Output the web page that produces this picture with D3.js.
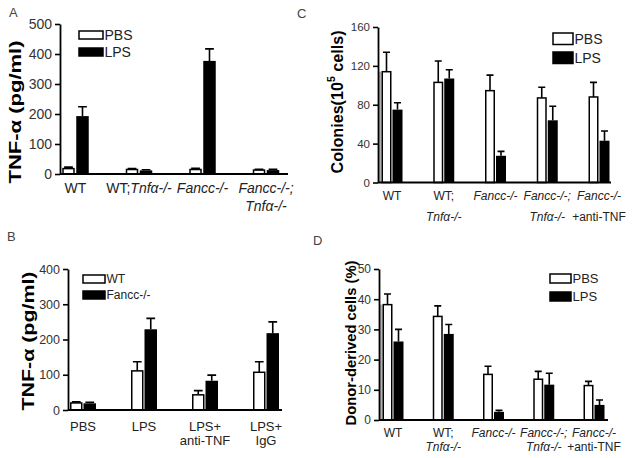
<!DOCTYPE html>
<html><head><meta charset="utf-8">
<script src="https://cdn.jsdelivr.net/npm/d3@7"></script>
<style>body{margin:0;background:#fff}svg{display:block;font-family:"Liberation Sans",Arial,sans-serif}</style>
</head><body><svg id="c" width="632" height="458"></svg>
<script>
// ---------- Panel A ----------
const catsA = ["WT", "WT;Tnfα-/-", "Fancc-/-", "Fancc-/-;\nTnfα-/-"];
const pbsA = [18, 15, 15, 13];
const pbsErrA = [5, 3, 4, 3];
const lpsA = [193, 12, 377, 13];
const lpsErrA = [31, 2, 40, 3];
const ticksA = [0, 100, 200, 300, 400, 500];
const seriesA = ["PBS", "LPS"];
// ---------- Panel B ----------
const catsB = ["PBS", "LPS", "LPS+\nanti-TNF", "LPS+\nIgG"];
const wtB = [20, 111, 43, 107];
const wtErrB = [3, 26, 12, 30];
const fanccB = [19, 229, 83, 218];
const fanccErrB = [3, 31, 16, 32];
const ticksB = [0, 100, 200, 300, 400];
const seriesB = ["WT", "Fancc-/-"];
// ---------- Panel C ----------
const catsC = ["WT", "WT;\nTnfα-/-", "Fancc-/-", "Fancc-/-;\nTnfα-/-", "Fancc-/-\n+anti-TNF"];
const pbsC = [114, 103, 94.5, 87, 88];
const pbsErrC = [20, 22, 16, 11, 15];
const lpsC = [75, 107, 27.5, 64, 43];
const lpsErrC = [7, 9, 4.5, 14.5, 10];
const ticksC = [0, 40, 80, 120, 160];
const seriesC = ["PBS", "LPS"];
// ---------- Panel D ----------
const catsD = ["WT", "WT;\nTnfα-/-", "Fancc-/-", "Fancc-/-;\nTnfα-/-", "Fancc-/-\n+anti-TNF"];
const pbsD = [38.2, 34.3, 15.1, 13.5, 11.4];
const pbsErrD = [3.5, 3.5, 2.7, 2.6, 1.4];
const lpsD = [26, 28.5, 2.7, 11.7, 5];
const lpsErrD = [4, 3.1, 0.5, 3.8, 1.6];
const ticksD = [0, 10, 20, 30, 40, 50];
const seriesD = ["PBS", "LPS"];

const svg = d3.select("#c");

function addRichText(sel, str, italicize) {
  const parts = italicize ? str.split(/(Fancc-\/-;?|Tnfα-\/-)/).filter(s => s.length) : [str];
  parts.forEach(p => {
    sel.append("tspan").text(p)
      .attr("font-style", italicize && /Fancc|Tnf/.test(p) ? "italic" : "normal");
  });
}

function drawPanel(cfg, cats, v1, e1, v2, e2, ticks, names) {
  const g = svg.append("g");
  const y = d3.scaleLinear().domain([0, ticks[ticks.length - 1]]).range([cfg.y0, cfg.y1]);
  const x = d3.scalePoint().domain(cats).range([cfg.c0, cfg.c1]);
  const W = cfg.barW, gap = cfg.gap;
  const rows = cats.map((c, i) => ({ c, v1: v1[i], e1: e1[i], v2: v2[i], e2: e2[i], i }));

  if (cfg.strip) {
    const r = rows[0];
    g.append("rect").attr("x", cfg.x0 + 1).attr("width", x(r.c) - gap / 2 - W - cfg.x0 - 1)
      .attr("y", y(r.v1)).attr("height", cfg.y0 - y(r.v1)).attr("fill", "#b0b0b0");
  }

  const err = (key, ekey, dx) => {
    g.selectAll(null).data(rows).enter().append("path")
      .attr("d", d => {
        const cx = x(d.c) + dx, t = y(d[key]), tt = y(d[key] + d[ekey]), cw = W * 0.35;
        return `M${cx},${t}V${tt}M${cx - cw},${tt}H${cx + cw}`;
      })
      .attr("stroke", "#000").attr("stroke-width", 1.6).attr("fill", "none");
  };
  err("v1", "e1", -gap / 2 - W / 2);
  err("v2", "e2", gap / 2 + W / 2);

  g.selectAll(null).data(rows).enter().append("rect")
    .attr("x", d => x(d.c) - gap / 2 - W + 0.75).attr("width", W - 1.5)
    .attr("y", d => y(d.v1)).attr("height", d => cfg.y0 - y(d.v1))
    .attr("fill", "#fff").attr("stroke", "#000").attr("stroke-width", 1.5);
  g.selectAll(null).data(rows).enter().append("rect")
    .attr("x", d => x(d.c) + gap / 2).attr("width", W)
    .attr("y", d => y(d.v2)).attr("height", d => cfg.y0 - y(d.v2))
    .attr("fill", "#000");

  const ax = g.append("g").attr("transform", `translate(${cfg.x0},0)`)
    .call(d3.axisLeft(y).tickValues(ticks).tickSize(5).tickSizeOuter(0).tickPadding(3));
  ax.select(".domain").attr("stroke-width", 1.8);
  ax.selectAll(".tick line").attr("stroke-width", 1.6);
  ax.selectAll(".tick text").attr("font-size", cfg.tickFont).attr("fill", "#333")
    .attr("font-family", '"Liberation Sans",Arial,sans-serif');
  g.append("line").attr("x1", cfg.x0).attr("x2", cfg.x1).attr("y1", cfg.y0).attr("y2", cfg.y0)
    .attr("stroke", "#000").attr("stroke-width", 1.8);

  rows.forEach(r => {
    r.c.split("\n").forEach((line, li) => {
      const t = g.append("text").attr("x", x(r.c)).attr("y", cfg.y0 + cfg.xOff + li * cfg.lineH)
        .attr("text-anchor", "middle").attr("font-size", cfg.xFont).attr("fill", "#222");
      addRichText(t, line, true);
    });
  });

  names.forEach((n, i) => {
    const L = cfg.legend;
    g.append("rect").attr("x", L.x).attr("y", L.y + i * L.dy).attr("width", L.w).attr("height", L.h)
      .attr("fill", i === 0 ? "#fff" : "#000").attr("stroke", "#000").attr("stroke-width", 1.5);
    g.append("text").attr("x", L.x + L.w + 1.5).attr("y", L.y + i * L.dy + L.h / 2)
      .attr("dominant-baseline", "central").attr("font-size", L.font).attr("fill", "#222").text(n);
  });

  const yl = g.append("text").attr("transform", `translate(${cfg.ylab.x},${cfg.ylab.y}) rotate(-90)`)
    .attr("text-anchor", "middle").attr("dominant-baseline", "central")
    .attr("font-weight", "bold").attr("font-size", cfg.ylab.font)
    .attr("textLength", cfg.ylab.len).attr("lengthAdjust", "spacingAndGlyphs");
  cfg.ylab.parts.forEach(p => {
    const ts = yl.append("tspan").text(p.t);
    if (p.sup) ts.attr("dy", -6).attr("font-size", cfg.ylab.font * 0.65);
    if (p.down) ts.attr("dy", 6);
  });

  g.append("text").attr("x", cfg.letter.x).attr("y", cfg.letter.y).attr("font-size", 13)
    .attr("fill", "#444").text(cfg.letter.t);
}

drawPanel({
  x0: 60, x1: 288, c0: 75.5, c1: 266, y0: 174, y1: 24, barW: 12.5, gap: 1.5,
  tickFont: 14, xFont: 14, xOff: 19, lineH: 18,
  legend: { x: 79, y: 31, w: 24, h: 8, dy: 17, font: 14 },
  ylab: { x: 15, y: 112, len: 143, font: 17, parts: [{ t: "TNF-α (pg/ml)" }] },
  letter: { t: "A", x: 9, y: 17 }
}, catsA, pbsA, pbsErrA, lpsA, lpsErrA, ticksA, seriesA);

drawPanel({
  x0: 68, x1: 282, c0: 83, c1: 266, y0: 410, y1: 269, barW: 12.5, gap: 1,
  tickFont: 12.5, xFont: 13, xOff: 21, lineH: 13.5,
  legend: { x: 83, y: 275, w: 22, h: 8, dy: 16, font: 12 },
  ylab: { x: 28, y: 341, len: 139, font: 17, parts: [{ t: "TNF-α (pg/ml)" }] },
  letter: { t: "B", x: 7, y: 241 }
}, catsB, wtB, wtErrB, fanccB, fanccErrB, ticksB, seriesB);

drawPanel({
  x0: 378, x1: 611, c0: 392, c1: 599, y0: 182.5, y1: 27, barW: 10, gap: 1, strip: true,
  tickFont: 11.5, xFont: 12, xOff: 17, lineH: 21,
  legend: { x: 553, y: 33, w: 20, h: 11.5, dy: 19, font: 14 },
  ylab: { x: 337, y: 102, len: 143, font: 16,
    parts: [{ t: "Colonies(10" }, { t: "5", sup: true }, { t: " cells)", down: true }] },
  letter: { t: "C", x: 297, y: 18 }
}, catsC, pbsC, pbsErrC, lpsC, lpsErrC, ticksC, seriesC);

drawPanel({
  x0: 379, x1: 608, c0: 393, c1: 594, y0: 420, y1: 269, barW: 10, gap: 1, strip: true,
  tickFont: 12, xFont: 12, xOff: 17, lineH: 14,
  legend: { x: 550, y: 274, w: 21, h: 9, dy: 18, font: 13 },
  ylab: { x: 350, y: 343, len: 165, font: 15, parts: [{ t: "Donor-derived cells (%)" }] },
  letter: { t: "D", x: 313, y: 245 }
}, catsD, pbsD, pbsErrD, lpsD, lpsErrD, ticksD, seriesD);
</script></body></html>
